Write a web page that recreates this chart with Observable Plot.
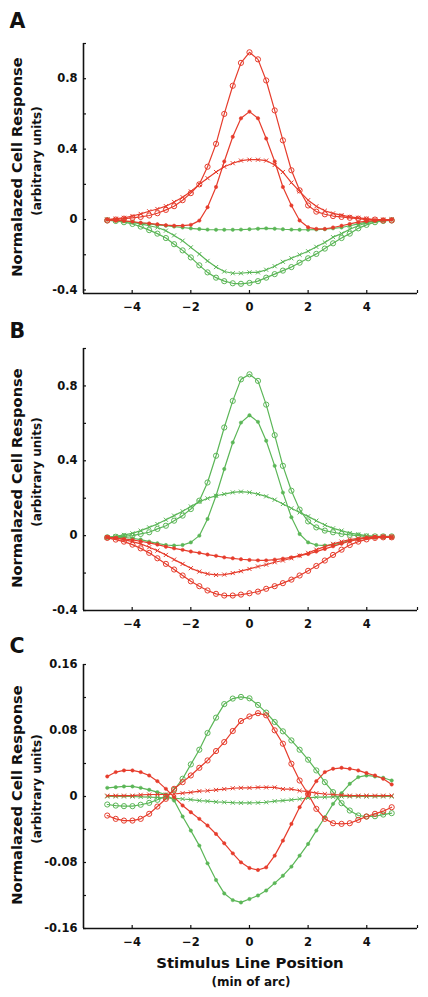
<!DOCTYPE html>
<html><head><meta charset="utf-8">
<script src="https://cdn.jsdelivr.net/npm/d3@7"></script>
<script src="https://cdn.jsdelivr.net/npm/@observablehq/plot@0.6"></script>
<style>
body{margin:0;background:#fff;}
#chart{width:428px;}
#chart svg{display:block;}
</style></head><body><div id="chart"></div>
<script>
// Stimulus line positions (min of arc)
const xPositions = [-4.85,-4.56,-4.28,-3.99,-3.71,-3.42,-3.14,-2.85,-2.57,-2.28,-2.0,-1.71,-1.43,-1.14,-0.86,-0.57,-0.29,0,0.29,0.57,0.86,1.14,1.43,1.71,2.0,2.28,2.57,2.85,3.14,3.42,3.71,3.99,4.28,4.56,4.85];
const xDomain = [-5.66, 5.73];
const xTicks = [-4,-2,0,2,4];
const xTickLabels = ["−4","−2","0","2","4"];
const xTickMarks = [-4,-2,0,2,4,5.73];

const colorRed = "#e63c2c";
const colorGreen = "#5bb657";

// Panel A
const aRedCircles = [-0.005,0,0.005,0.01,0.015,0.023,0.036,0.055,0.076,0.11,0.15,0.20,0.30,0.43,0.60,0.76,0.89,0.95,0.91,0.79,0.62,0.45,0.28,0.166,0.08,0.045,0.03,0.02,0.015,0.01,0.005,0,0,-0.005,-0.005];
const aRedDots = [0,-0.005,-0.008,-0.012,-0.018,-0.022,-0.027,-0.032,-0.035,-0.035,-0.03,-0.006,0.07,0.185,0.33,0.47,0.575,0.613,0.575,0.46,0.33,0.185,0.08,-0.005,-0.044,-0.053,-0.053,-0.045,-0.035,-0.025,-0.015,-0.01,-0.005,-0.002,0];
const aRedCrosses = [0,0.005,0.01,0.02,0.032,0.047,0.06,0.076,0.10,0.127,0.16,0.20,0.235,0.27,0.30,0.32,0.335,0.34,0.34,0.335,0.31,0.27,0.21,0.16,0.11,0.075,0.05,0.035,0.025,0.015,0.01,0.005,0,0,0];
const aGreenDots = [0,-0.005,-0.01,-0.015,-0.02,-0.025,-0.03,-0.035,-0.04,-0.045,-0.05,-0.054,-0.057,-0.058,-0.058,-0.058,-0.057,-0.055,-0.052,-0.05,-0.052,-0.055,-0.057,-0.058,-0.058,-0.057,-0.055,-0.05,-0.045,-0.035,-0.025,-0.015,-0.01,-0.005,0];
const aGreenCrosses = [0,-0.005,-0.01,-0.015,-0.025,-0.035,-0.045,-0.063,-0.09,-0.12,-0.158,-0.196,-0.235,-0.27,-0.295,-0.305,-0.305,-0.30,-0.30,-0.285,-0.265,-0.24,-0.22,-0.20,-0.18,-0.155,-0.13,-0.10,-0.08,-0.055,-0.035,-0.018,-0.008,-0.003,0];
const aGreenCircles = [-0.005,-0.008,-0.015,-0.025,-0.04,-0.06,-0.08,-0.105,-0.14,-0.175,-0.215,-0.26,-0.30,-0.33,-0.35,-0.362,-0.365,-0.36,-0.35,-0.33,-0.31,-0.29,-0.27,-0.245,-0.22,-0.195,-0.165,-0.135,-0.105,-0.08,-0.05,-0.03,-0.015,-0.008,-0.005];
const aYDomain = [-0.42, 1.0];
const aYTicks = [-0.4,0,0.4,0.8];
const aYTickLabels = ["-0.4","0","0.4","0.8"];
const aYTickMarks = [-0.4,-0.2,0,0.2,0.4,0.6,0.8,1.0];

// Panel B
const bGreenCircles = [-0.009,-0.006,-0.003,0,0.009,0.018,0.036,0.053,0.08,0.107,0.142,0.187,0.284,0.427,0.578,0.72,0.835,0.862,0.827,0.70,0.537,0.373,0.24,0.139,0.076,0.044,0.027,0.018,0.009,0.004,0,-0.004,-0.004,-0.004,-0.004];
const bGreenDots = [-0.009,-0.009,-0.01,-0.014,-0.021,-0.032,-0.041,-0.05,-0.053,-0.05,-0.036,0,0.089,0.213,0.356,0.498,0.604,0.643,0.608,0.507,0.373,0.23,0.098,0.009,-0.036,-0.05,-0.053,-0.048,-0.039,-0.027,-0.018,-0.012,-0.009,-0.007,-0.007];
const bGreenCrosses = [-0.009,-0.004,0.004,0.012,0.027,0.044,0.062,0.085,0.107,0.13,0.156,0.181,0.199,0.213,0.222,0.231,0.235,0.231,0.222,0.21,0.192,0.169,0.146,0.124,0.103,0.08,0.057,0.039,0.027,0.014,0.007,0,-0.004,-0.005,-0.007];
const bRedCircles = [-0.012,-0.021,-0.032,-0.048,-0.068,-0.092,-0.121,-0.151,-0.181,-0.213,-0.244,-0.27,-0.293,-0.311,-0.32,-0.32,-0.315,-0.308,-0.299,-0.284,-0.27,-0.254,-0.235,-0.213,-0.188,-0.162,-0.133,-0.103,-0.075,-0.05,-0.032,-0.02,-0.012,-0.009,-0.009];
const bRedCrosses = [-0.009,-0.014,-0.021,-0.032,-0.044,-0.062,-0.08,-0.103,-0.128,-0.151,-0.174,-0.192,-0.204,-0.21,-0.208,-0.2,-0.19,-0.178,-0.165,-0.155,-0.142,-0.133,-0.121,-0.107,-0.092,-0.075,-0.059,-0.044,-0.032,-0.021,-0.014,-0.009,-0.005,-0.005,-0.007];
const bRedDots = [-0.009,-0.012,-0.018,-0.023,-0.03,-0.039,-0.048,-0.059,-0.068,-0.076,-0.085,-0.092,-0.101,-0.108,-0.116,-0.121,-0.126,-0.13,-0.132,-0.132,-0.128,-0.123,-0.116,-0.107,-0.098,-0.085,-0.071,-0.057,-0.043,-0.03,-0.02,-0.012,-0.009,-0.007,-0.009];
const bYDomain = [-0.4, 1.0];
const bYTicks = [-0.4,0,0.4,0.8];
const bYTickLabels = ["-0.4","0","0.4","0.8"];
const bYTickMarks = [-0.4,-0.2,0,0.2,0.4,0.6,0.8,1.0];

// Panel C
const cGreenCircles = [-0.0097,-0.011,-0.0117,-0.0117,-0.010,-0.0077,-0.004,0,0.008,0.0215,0.0389,0.0567,0.077,0.0956,0.112,0.1187,0.1207,0.1190,0.111,0.1017,0.0903,0.079,0.068,0.0567,0.0446,0.0316,0.0174,0.0053,-0.0081,-0.017,-0.023,-0.0243,-0.0239,-0.0219,-0.0202];
const cRedCircles = [-0.0231,-0.0271,-0.0292,-0.0292,-0.0271,-0.021,-0.0122,-0.0028,0.0093,0.0174,0.0255,0.0348,0.0437,0.0551,0.066,0.0794,0.0915,0.097,0.101,0.0984,0.0802,0.064,0.0397,0.0194,0.003,-0.015,-0.0271,-0.0324,-0.0332,-0.0324,-0.0284,-0.0243,-0.021,-0.0178,-0.013];
const cRedDots = [0.0243,0.0296,0.0316,0.0316,0.0296,0.0255,0.0186,0.0093,-0.0008,-0.0109,-0.019,-0.0271,-0.0352,-0.0454,-0.0567,-0.0689,-0.0798,-0.0867,-0.0891,-0.0859,-0.0717,-0.0535,-0.0332,-0.013,0.0032,0.0186,0.0296,0.0336,0.0348,0.0336,0.0316,0.0284,0.0255,0.0215,0.0146];
const cGreenDots = [0.0105,0.0113,0.0122,0.0122,0.0105,0.0081,0.0053,0.0024,-0.0049,-0.0243,-0.0413,-0.0595,-0.081,-0.1013,-0.1175,-0.1256,-0.1284,-0.1243,-0.12,-0.114,-0.105,-0.096,-0.085,-0.0717,-0.0575,-0.0413,-0.0251,-0.0089,0.004,0.0154,0.0235,0.0255,0.0243,0.0227,0.0194];
const cRedCrosses = [0.001,0.001,0.001,0.001,0.002,0.0024,0.0024,0.0024,0.003,0.004,0.005,0.0065,0.007,0.008,0.009,0.010,0.0105,0.0105,0.011,0.011,0.011,0.009,0.009,0.007,0.006,0.004,0.003,0.0024,0.0016,0.001,0.001,0.001,0.001,0.001,0.001];
const cGreenCrosses = [0,0,0,0,-0.0004,-0.0008,-0.0012,-0.0016,-0.002,-0.003,-0.0037,-0.0049,-0.0057,-0.0065,-0.007,-0.0075,-0.0077,-0.0077,-0.0075,-0.007,-0.0057,-0.0049,-0.004,-0.003,-0.0016,-0.0008,-0.0008,-0.0004,0,0,0,0,0,0,0];
const cYDomain = [-0.16, 0.16];
const cYTicks = [-0.16,-0.08,0,0.08,0.16];
const cYTickLabels = ["-0.16","-0.08","0","0.08","0.16"];
const cYTickMarks = [-0.16,-0.12,-0.08,-0.04,0,0.04,0.08,0.12,0.16];

const yTitle = "Normalazed Cell Response";
const ySubtitle = "(arbitrary units)";
const xTitle = "Stimulus Line Position";
const xSubtitle = "(min of arc)";

const W = 428, ML = 83, MR = 11;
const FONT = "DejaVu Sans";

function seriesMarks(values, color, marker) {
  const rows = values.map((v, i) => ({x: xPositions[i], y: v}));
  const marks = [Plot.line(rows, {x: "x", y: "y", stroke: color, strokeWidth: 1.2})];
  if (marker === "circle") marks.push(Plot.dot(rows, {x: "x", y: "y", symbol: "circle", r: 2.6, stroke: color, fill: "none", strokeWidth: 1}));
  else if (marker === "dot") marks.push(Plot.dot(rows, {x: "x", y: "y", symbol: "circle", r: 1.7, fill: color, stroke: color, strokeWidth: 0.5}));
  else marks.push(Plot.dot(rows, {x: "x", y: "y", symbol: "times", r: 2.0, stroke: color, strokeWidth: 1}));
  return marks;
}

function panel(cfg) {
  const plotH = cfg.height - cfg.marginTop - cfg.marginBottom;
  const plotW = W - ML - MR;
  const marks = [];
  for (const s of cfg.series) marks.push(...seriesMarks(s[0], s[1], s[2]));
  marks.push(
    Plot.ruleX([xDomain[0]], {stroke: "#111", strokeWidth: 1.6}),
    Plot.ruleY([cfg.yDomain[0]], {stroke: "#111", strokeWidth: 1.6}),
    Plot.tickY(cfg.yTickMarks, {y: d => d, insetRight: plotW - 3, stroke: "#111", strokeWidth: 1.2}),
    Plot.tickX(xTickMarks, {x: d => d, insetTop: plotH - 3, stroke: "#111", strokeWidth: 1.2}),
    Plot.text(cfg.yTicks, {x: xDomain[0], y: d => d, text: (d, i) => cfg.yTickLabels[i], textAnchor: "end", dx: -6, fill: "#111"}),
    Plot.text(xTicks, {x: d => d, y: cfg.yDomain[0], text: (d, i) => xTickLabels[i], dy: 13.5, fill: "#111"})
  );
  const svg = Plot.plot({
    width: W, height: cfg.height,
    marginLeft: ML, marginRight: MR, marginTop: cfg.marginTop, marginBottom: cfg.marginBottom,
    x: {domain: xDomain, axis: null},
    y: {domain: cfg.yDomain, axis: null},
    style: {fontFamily: FONT, fontSize: "11.5px", fontWeight: "bold", background: "white", color: "#111"},
    marks
  });
  const s = d3.select(svg);
  const cy = cfg.marginTop + plotH / 2;
  s.append("text").attr("x", 9.5).attr("y", cfg.letterY).attr("text-anchor", "start")
    .style("font-size", "20.5px").attr("fill", "#111").text(cfg.letter);
  s.append("text").attr("transform", `translate(22,${cy - 1}) rotate(-90)`).attr("text-anchor", "middle")
    .style("font-size", "14.7px").attr("fill", "#111").text(yTitle);
  s.append("text").attr("transform", `translate(40.5,${cy - 7}) rotate(-90)`).attr("text-anchor", "middle")
    .style("font-size", "12px").attr("fill", "#111").text(ySubtitle);
  if (cfg.showXTitle) {
    const cx = ML + plotW / 2;
    s.append("text").attr("x", cx).attr("y", cfg.marginTop + plotH + 40).attr("text-anchor", "middle")
      .style("font-size", "14.9px").attr("fill", "#111").text(xTitle);
    s.append("text").attr("x", cx + 1).attr("y", cfg.marginTop + plotH + 58).attr("text-anchor", "middle")
      .style("font-size", "12px").attr("fill", "#111").text(xSubtitle);
  }
  return svg;
}

const root = document.getElementById("chart");
root.appendChild(panel({
  letter: "A", height: 315, marginTop: 43, marginBottom: 22, letterY: 28,
  yDomain: aYDomain, yTicks: aYTicks, yTickLabels: aYTickLabels, yTickMarks: aYTickMarks,
  series: [
    [aGreenDots, colorGreen, "dot"], [aGreenCrosses, colorGreen, "times"], [aGreenCircles, colorGreen, "circle"],
    [aRedCircles, colorRed, "circle"], [aRedDots, colorRed, "dot"], [aRedCrosses, colorRed, "times"]
  ]
}));
root.appendChild(panel({
  letter: "B", height: 317, marginTop: 33, marginBottom: 22, letterY: 23,
  yDomain: bYDomain, yTicks: bYTicks, yTickLabels: bYTickLabels, yTickMarks: bYTickMarks,
  series: [
    [bGreenCircles, colorGreen, "circle"], [bGreenDots, colorGreen, "dot"], [bGreenCrosses, colorGreen, "times"],
    [bRedCircles, colorRed, "circle"], [bRedCrosses, colorRed, "times"], [bRedDots, colorRed, "dot"]
  ]
}));
root.appendChild(panel({
  letter: "C", height: 365, marginTop: 32, marginBottom: 69, letterY: 21, showXTitle: true,
  yDomain: cYDomain, yTicks: cYTicks, yTickLabels: cYTickLabels, yTickMarks: cYTickMarks,
  series: [
    [cGreenCircles, colorGreen, "circle"], [cGreenDots, colorGreen, "dot"], [cGreenCrosses, colorGreen, "times"],
    [cRedCircles, colorRed, "circle"], [cRedDots, colorRed, "dot"], [cRedCrosses, colorRed, "times"]
  ]
}));
</script></body></html>
